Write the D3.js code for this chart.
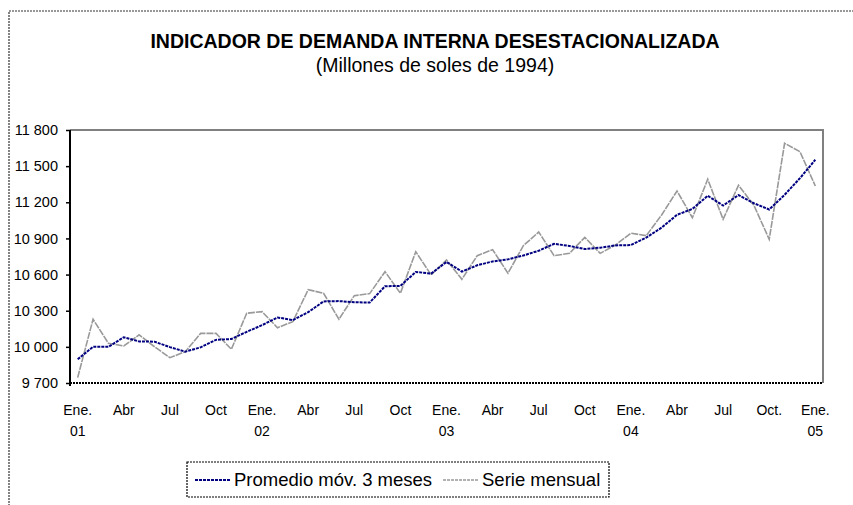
<!DOCTYPE html>
<html>
<head>
<meta charset="utf-8">
<script src="https://cdn.jsdelivr.net/npm/d3@7"></script>
<style>
  body { margin: 0; background: #fff; }
  svg { display: block; font-family: "Liberation Sans", Arial, sans-serif; }
</style>
</head>
<body>
<svg id="chart"></svg>
<script>
var width = 853, height = 505;

// Serie mensual, Ene.01 - Ene.05
var serieMensual = [
  9745, 10229, 10030, 10007, 10100, 10001, 9910, 9960, 10112, 10112, 9980, 10279,
  10292, 10159, 10209, 10475, 10445, 10229, 10425, 10442, 10624, 10445, 10790, 10597,
  10721, 10561, 10757, 10807, 10611, 10840, 10953, 10757, 10776, 10909, 10776, 10846,
  10943, 10923, 11095, 11294, 11072, 11391, 11059, 11341, 11176, 10893, 11690, 11620,
  11335
];

// Promedio movil 3 meses
var promedioMovil = [
  9897, 10000, 10000, 10080, 10045, 10043, 9998, 9960, 9996, 10058, 10065, 10125,
  10180, 10244, 10222, 10288, 10377, 10380, 10370, 10368, 10503, 10506, 10622, 10608,
  10705, 10625, 10677, 10709, 10726, 10758, 10798, 10855, 10838, 10812, 10823, 10842,
  10845, 10907, 10990, 11096, 11145, 11254, 11173, 11260, 11192, 11140, 11262, 11400,
  11553
];

// etiquetas cada 3 meses
var tickMeses = ["Ene.", "Abr", "Jul", "Oct", "Ene.", "Abr", "Jul", "Oct",
                 "Ene.", "Abr", "Jul", "Oct", "Ene.", "Abr", "Jul", "Oct.", "Ene."];
var tickAnios = ["01", "", "", "", "02", "", "", "", "03", "", "", "", "04", "", "", "", "05"];
var yTicks = [9700, 10000, 10300, 10600, 10900, 11200, 11500, 11800];

var svg = d3.select("#chart")
    .attr("width", width)
    .attr("height", height);

// outer chart border (cut by the picture on the right and bottom)
svg.append("rect")
    .attr("x", 9).attr("y", 11)
    .attr("width", 900).attr("height", 600)
    .attr("fill", "none")
    .attr("stroke", "#333")
    .attr("stroke-width", 1.2)
    .attr("stroke-dasharray", "2,1");

// titles
svg.append("text")
    .attr("x", 435).attr("y", 48)
    .attr("text-anchor", "middle")
    .style("font-size", "19.5px")
    .style("font-weight", "bold")
    .text("INDICADOR DE DEMANDA INTERNA DESESTACIONALIZADA");

svg.append("text")
    .attr("x", 435).attr("y", 72)
    .attr("text-anchor", "middle")
    .style("font-size", "19.5px")
    .text("(Millones de soles de 1994)");

var plot = { left: 70, right: 823, top: 130, bottom: 383 };

var x = d3.scaleBand()
    .domain(d3.range(serieMensual.length))
    .range([plot.left, plot.right]);
var xc = function(i){ return x(i) + x.bandwidth() / 2; };

var y = d3.scaleLinear()
    .domain([9700, 11800])
    .range([plot.bottom, plot.top]);

var fmt = d3.formatLocale({ decimal: ",", thousands: " ", grouping: [3], currency: ["", ""] }).format(",");

// top and right border of plot area
svg.append("path")
    .attr("d", "M" + plot.left + "," + plot.top + "H" + plot.right + "V" + plot.bottom)
    .attr("fill", "none")
    .attr("stroke", "#808080")
    .attr("stroke-width", 2);

// bottom axis (dotted)
svg.append("line")
    .attr("x1", plot.left).attr("x2", plot.right)
    .attr("y1", plot.bottom).attr("y2", plot.bottom)
    .attr("stroke", "#000")
    .attr("stroke-width", 2)
    .attr("stroke-dasharray", "2,1");

// y axis
var yAxis = svg.append("g")
    .attr("transform", "translate(" + plot.left + ",0)")
    .call(d3.axisLeft(y).tickValues(yTicks).tickSize(4).tickPadding(8).tickFormat(fmt));
yAxis.select(".domain").attr("stroke-width", 2).attr("d", "M0," + plot.top + "V" + (plot.bottom + 3));
yAxis.selectAll(".tick line").attr("stroke-width", 1.5);
yAxis.selectAll(".tick text")
    .style("font-size", "14.5px")
    .style("font-family", "'Liberation Sans', Arial, sans-serif")
    .attr("fill", "#000");

// x labels
var xIdx = d3.range(0, serieMensual.length, 3);
var xl = svg.append("g").selectAll("text")
    .data(xIdx)
    .enter()
    .append("text")
      .attr("text-anchor", "middle")
      .style("font-size", "14px");
xl.append("tspan")
    .attr("x", function(d){ return xc(d); })
    .attr("y", 415)
    .text(function(d, i){ return tickMeses[i]; });
xl.append("tspan")
    .attr("x", function(d){ return xc(d); })
    .attr("y", 436)
    .text(function(d, i){ return tickAnios[i]; });

// lines
var line = d3.line()
    .x(function(d, i){ return xc(i); })
    .y(function(d){ return y(d); });

svg.append("path")
    .datum(serieMensual)
    .attr("d", line)
    .attr("fill", "none")
    .attr("stroke", "#999999")
    .attr("stroke-width", 1.6)
    .attr("stroke-dasharray", "7,1");

svg.append("path")
    .datum(promedioMovil)
    .attr("d", line)
    .attr("fill", "none")
    .attr("stroke", "#000080")
    .attr("stroke-width", 2)
    .attr("stroke-dasharray", "3,1");

// legend
var legend = svg.append("g");
legend.append("rect")
    .attr("x", 187).attr("y", 462)
    .attr("width", 422).attr("height", 35)
    .attr("fill", "#fff")
    .attr("stroke", "#000")
    .attr("stroke-width", 1.2)
    .attr("stroke-dasharray", "2,1");

var legItems = [
  { name: "Promedio móv. 3 meses", color: "#000080", w: 2, x: 195 },
  { name: "Serie mensual", color: "#999999", w: 1.6, x: 443 }
];
legItems.forEach(function(d){
  legend.append("line")
      .attr("x1", d.x).attr("x2", d.x + 36)
      .attr("y1", 480).attr("y2", 480)
      .attr("stroke", d.color)
      .attr("stroke-width", d.w)
      .attr("stroke-dasharray", "3,1");
  legend.append("text")
      .attr("x", d.x + 39).attr("y", 486)
      .style("font-size", "18.5px")
      .text(d.name);
});
</script>
</body>
</html>
